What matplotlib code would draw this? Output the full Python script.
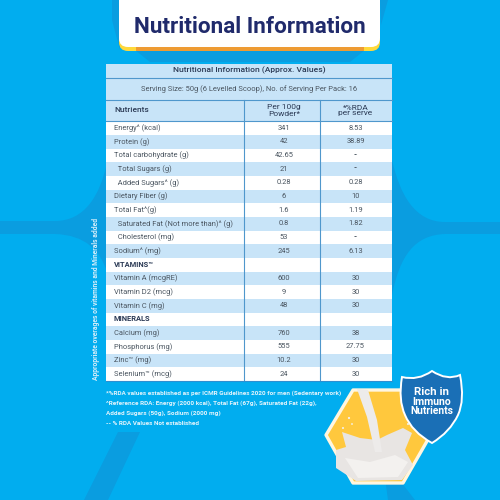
import matplotlib
matplotlib.use("Agg")
import matplotlib.pyplot as plt
from matplotlib.patches import Polygon, Rectangle, FancyBboxPatch, PathPatch, Circle
from matplotlib.path import Path
from matplotlib import font_manager as fm

title = "Nutritional Information"
table_title = "Nutritional Information (Approx. Values)"
serving = "Serving Size: 50g (6 Levelled Scoop), No. of Serving Per Pack: 16"
headers = ["Nutrients", "Per 100g\nPowder*", "*%RDA\nper serve"]
nutrients = ["Energy^ (kcal)", "Protein (g)", "Total carbohydrate (g)", "  Total Sugars (g)",
             "  Added Sugars^ (g)", "Dietary Fiber (g)", "Total Fat^(g)",
             "  Saturated Fat (Not more than)^ (g)", "  Cholesterol (mg)", "Sodium^ (mg)",
             "VITAMINS\u2122", "Vitamin A (mcgRE)", "Vitamin D2 (mcg)", "Vitamin C (mg)", "MINERALS",
             "Calcium (mg)", "Phosphorus (mg)", "Zinc\u2122 (mg)", "Selenium\u2122 (mcg)"]
per_100g = ["341", "42", "42.65", "21", "0.28", "6", "1.6", "0.8", "53", "245", "",
            "600", "9", "48", "", "760", "555", "10.2", "24"]
rda = ["8.53", "38.89", "--", "--", "0.28", "10", "1.19", "1.82", "--", "6.13", "",
       "30", "30", "30", "", "38", "27.75", "30", "30"]
footnotes = ["*%RDA values established as per ICMR Guidelines 2020 for men (Sedentary work)",
             "^Reference RDA: Energy (2000 kcal), Total Fat (67g), Saturated Fat (22g),",
             "Added Sugars (50g), Sodium (2000 mg)",
             "-- % RDA Values Not established"]
side_note = "Appropriate overages of vitamins and Minerals added"
badge = ["Rich in", "Immuno", "Nutrients"]

BG = "#01ADEF"; DARK = "#0A9DE0"; ROW = "#C8E4F8"; LINE = "#4F97CC"; TXT = "#4A5560"; HEAD = "#2B3A55"
plt.rcParams["font.family"] = ["Roboto", "DejaVu Sans"]
names = {f.name for f in fm.fontManager.ttflist}
has_narrow = "Liberation Sans Narrow" in names
NARROW = ["Liberation Sans Narrow", "Roboto"] if has_narrow else ["Roboto"]
NOTE_SIZE = 5.7 if has_narrow else 4.6
SIDE_SIZE = 6.1 if has_narrow else 4.9

fig = plt.figure(figsize=(5, 5), dpi=100, facecolor=BG)
ax = fig.add_axes([0, 0, 1, 1])
ax.set_xlim(0, 500); ax.set_ylim(500, 0); ax.axis("off")

def curve(verts, codes, **kw):
    kw.setdefault("lw", 0)
    ax.add_patch(PathPatch(Path(verts, codes), **kw))
M, L, C3, C4, Z = Path.MOVETO, Path.LINETO, Path.CURVE3, Path.CURVE4, Path.CLOSEPOLY

# background flares
curve([(0, 221), (55, 221), (85, 221), (100, 195), (107, 163), (107, 272), (100, 250), (85, 235), (55, 234), (0, 234), (0, 221)],
      [M, L, C4, C4, C4, L, C4, C4, C4, L, Z], facecolor=DARK)
curve([(500, 222), (445, 222), (415, 222), (400, 195), (392, 160), (392, 295), (400, 255), (415, 235), (445, 234), (500, 234), (500, 222)],
      [M, L, C4, C4, C4, L, C4, C4, C4, L, Z], facecolor=DARK)
ax.add_patch(Polygon([(84, 500), (108, 500), (140, 432), (118, 432)], fc=DARK, lw=0))
ax.add_patch(Polygon([(388, 500), (415, 500), (398, 478), (385, 478)], fc=DARK, lw=0))
ax.add_patch(Polygon([(112, 0), (120, 0), (120, 50), (112, 20)], fc=DARK, lw=0))
ax.add_patch(Polygon([(380, 0), (388, 0), (381, 25)], fc=DARK, lw=0))
ax.add_patch(Polygon([(135, 50), (365, 50), (350, 62), (150, 62)], fc=DARK, lw=0))

# title card
ax.add_patch(FancyBboxPatch((119, -30), 261, 81, boxstyle="round,pad=0,rounding_size=9", fc="#FFD83A", ec="none"))
ax.add_patch(Rectangle((136, 47), 228, 4, fc="#EE9B33", ec="none"))
ax.add_patch(FancyBboxPatch((119, -30), 261, 77, boxstyle="round,pad=0,rounding_size=9", fc="white", ec="none"))
ax.text(250, 27, title, ha="center", va="center", fontsize=16.2, fontweight="bold", color="#202A6B")

# table
left, right, col1, col2 = 106, 392, 244, 319.5
ax.add_patch(Rectangle((left, 64), right - left, 57, fc=ROW, ec="none"))
row_h = 13.67; top = 121.2
for i, name in enumerate(nutrients):
    y = top + i * row_h
    ax.add_patch(Rectangle((left, y), right - left, row_h, fc=ROW if i % 2 else "white", ec="none"))
    bold = name.startswith(("VITAMINS", "MINERALS"))
    ax.text(114, y + row_h / 2, name, ha="left", va="center", fontsize=5.4,
            color=HEAD if bold else TXT, fontweight="bold" if bold else "normal")
    ax.text(284, y + row_h / 2, per_100g[i], ha="center", va="center", fontsize=5.4, color=TXT)
    ax.text(355.5, y + row_h / 2, rda[i], ha="center", va="center", fontsize=5.4, color=TXT)
for y in (78, 99.5, 121):
    ax.plot([left, right], [y, y], color=LINE, lw=0.8)
for x in (col1, col2):
    ax.plot([x, x], [99.5, 381], color=LINE, lw=0.8)
ax.plot([left, right], [381.3, 381.3], color="#2E8FD0", lw=0.8)
ax.text(249, 70.5, table_title, ha="center", va="center", fontsize=6.1, color=HEAD, fontweight="medium")
ax.text(249, 89, serving, ha="center", va="center", fontsize=5.4, color=TXT)
ax.text(114, 110.5, headers[0], ha="left", va="center", fontsize=6.0, color=HEAD, fontweight="medium")
ax.text(284, 110.5, headers[1], ha="center", va="center", fontsize=6.0, color=HEAD, linespacing=1.0)
ax.text(355.5, 110.5, headers[2], ha="center", va="center", fontsize=6.0, color=HEAD, linespacing=1.0)

# notes
for i, line in enumerate(footnotes):
    ax.text(106, 393 + i * 10.3, line, ha="left", va="center", fontsize=NOTE_SIZE, color="#E4F4FC",
            fontweight="bold", family=NARROW)
ax.text(96.5, 299, side_note, rotation=90, ha="center", va="center", fontsize=SIDE_SIZE, color="#D6EEFA",
        fontweight="bold", family=NARROW)

# milk tile
ax.add_patch(Polygon([(353, 390), (403, 390), (430, 436), (403, 483), (353, 483), (326, 435)],
                     fc="#FFC83D", ec="#FFF6E0", lw=2.4, joinstyle="round"))
curve([(342, 432), (360, 438), (377, 440), (387, 435), (403, 428), (412, 433), (405, 450), (413, 465),
       (402, 480), (356, 481), (336, 468), (336, 450), (346, 447), (342, 432)],
      [M] + [L] * 12 + [Z], facecolor="#E8E5E3", edgecolor="#E8E5E3", joinstyle="round")
curve([(345, 458), (370, 462), (395, 455), (408, 462), (398, 477), (358, 478), (345, 458)],
      [M] + [L] * 5 + [Z], facecolor="#F3F1EF", edgecolor="#F3F1EF")
ax.add_patch(Polygon([(357, 389), (368, 390), (377, 420), (382, 452), (375, 452), (367, 417)], fc="#EDEBEA", ec="none"))
for x, y, r in [(349, 418, 1.1), (352, 424, 0.9), (343, 428, 1.0), (408, 424, 1.0)]:
    ax.add_patch(Circle((x, y), r, fc="#F3F1EF", ec="none"))

# badge
shield = [(432, 371), (447, 381), (460, 375), (465, 400), (458, 415), (450, 432), (432, 443),
          (412, 432), (405, 415), (398, 400), (402, 377), (418, 381), (432, 371), (432, 371)]
curve(shield, [M] + [C3] * 12 + [Z], facecolor="#1A6FB6", edgecolor="white", lw=1.4)
for y, word, size in zip((392, 402, 411.5), badge, (8.2, 7.6, 7.4)):
    ax.text(432, y, word, ha="center", va="center", fontsize=size, fontweight="bold", color="white")

fig.savefig("out.png", dpi=100, facecolor=BG)
